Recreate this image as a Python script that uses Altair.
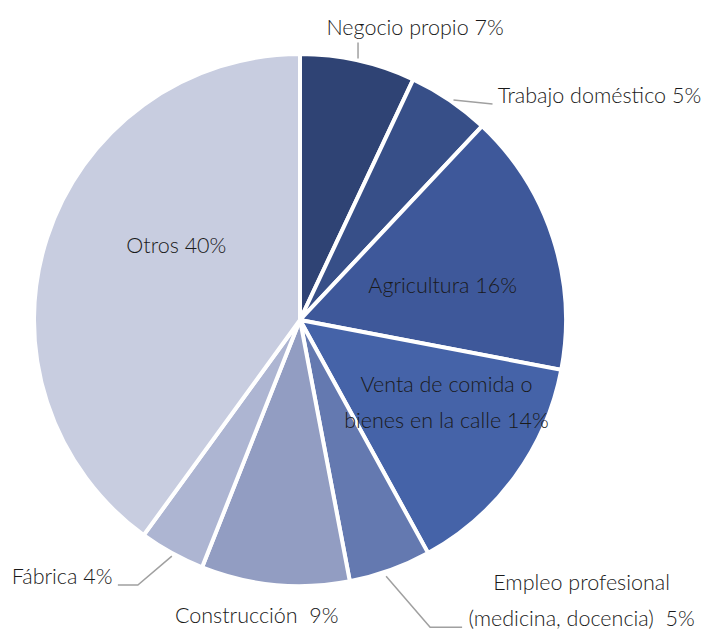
import math
import altair as alt
import pandas as pd

# ---- data ----
categories = ["Negocio propio", "Trabajo doméstico", "Agricultura",
              "Venta de comida o bienes en la calle",
              "Empleo profesional (medicina, docencia)",
              "Construcción", "Fábrica", "Otros"]
values = [7, 5, 16, 14, 5, 9, 4, 40]
label_lines = [["Negocio propio 7%"], ["Trabajo doméstico 5%"], ["Agricultura 16%"],
               ["Venta de comida o", "bienes en la calle 14%"],
               ["Empleo profesional", "(medicina, docencia)\u00a0 5%"],
               ["Construcción\u00a0 9%"], ["Fábrica 4%"], ["Otros 40%"]]

# ---- style / layout ----
colors = ["#2F4374", "#374F88", "#3E589A", "#4563A8", "#6479B0",
          "#929DC2", "#ADB5D2", "#C8CDE0"]
W, H = 697, 623
CX, CY, R = 292, 312, 266
FONT = "Lato"
# per label: radius, dx, dy, align
label_layout = [
    (300, -39, 2, "left"),
    (300, 29, 25, "left"),
    (150, 0, 13, "center"),
    (160, 17, -10, "center"),
    (300, 180, 0, "center"),
    (300, -15, -2, "center"),
    (300, -43, -5, "right"),
    (150, 19, -27, "center"),
]
LINE_GAP = 36
# leader lines: offsets from the slice's outer mid point
leaders = {
    0: [(0, -2), (0, -18)],
    1: [(4, 0), (43, 4)],
    4: [(-4, 6), (40, 57), (72, 57)],
    6: [(0, 3), (-34, 32), (-54, 32)],
}

total = sum(values)
mids = []
cum = 0
for v in values:
    mids.append((cum + v / 2) / total * 2 * math.pi)
    cum += v


def pt(a, r):
    return CX + r * math.sin(a), CY - r * math.cos(a)


pie_df = pd.DataFrame({"cat": categories, "value": values, "order": list(range(len(values)))})

text_rows = []
for i, lines in enumerate(label_lines):
    r, dx, dy, align = label_layout[i]
    x0, y0 = pt(mids[i], r)
    n = len(lines)
    for j, line in enumerate(lines):
        text_rows.append({"t": line, "x": x0 + dx,
                          "y": y0 + dy + (j - (n - 1) / 2) * LINE_GAP,
                          "align": align})
text_df = pd.DataFrame(text_rows)

line_rows = []
for i, offs in leaders.items():
    sx, sy = pt(mids[i], R)
    for k, (ox, oy) in enumerate(offs):
        line_rows.append({"g": i, "k": k, "x": sx + ox, "y": sy + oy})
line_df = pd.DataFrame(line_rows)

pie = alt.Chart(pie_df).mark_arc(outerRadius=R, stroke="white", strokeWidth=4).encode(
    theta=alt.Theta("value:Q", stack=True),
    order=alt.Order("order:Q"),
    color=alt.Color("cat:N", scale=alt.Scale(domain=categories, range=colors), legend=None),
    x=alt.value(CX), y=alt.value(CY),
)

leader = alt.Chart(line_df).mark_line(color="#A0A0A0", strokeWidth=1.5).encode(
    x=alt.X("x:Q", scale=None), y=alt.Y("y:Q", scale=None),
    detail="g:N", order="k:Q",
)

layers = [pie, leader]
for al in ["left", "center", "right"]:
    sub = text_df[text_df["align"] == al]
    layers.append(alt.Chart(sub).mark_text(
        align=al, baseline="middle", font=FONT, fontSize=21.5, fontWeight=300, color="#1A1A1A"
    ).encode(x=alt.X("x:Q", scale=None), y=alt.Y("y:Q", scale=None), text="t:N"))

chart = alt.layer(*layers).properties(
    width=W, height=H, padding=0, autosize=alt.AutoSizeParams(type="none")
).configure_view(stroke=None)

chart.save("out.html", embed_options={"renderer": "svg", "actions": False})
